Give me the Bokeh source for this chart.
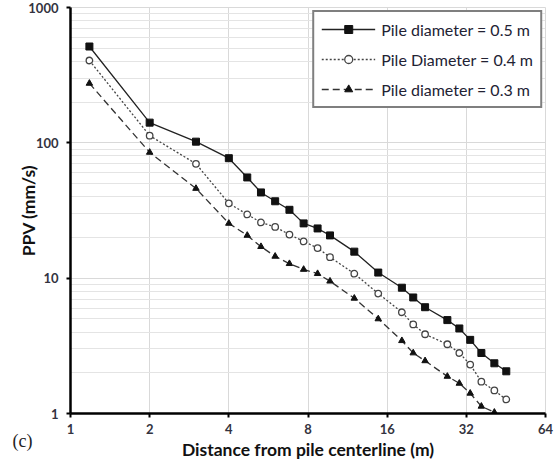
from bokeh.plotting import figure
from bokeh.models import FixedTicker, Legend, LegendItem, Title, Range1d
from bokeh.embed import file_html
from bokeh.resources import INLINE

# ---- data ----
distance = [1.18, 2.0, 3.0, 4.0, 4.7, 5.3, 6.0, 6.8, 7.7, 8.7, 9.7, 12.0,
            14.8, 18.2, 20.1, 22.3, 27.1, 30.1, 33.1, 36.5, 40.9, 45.4]
ppv_05 = [515, 141, 102, 77, 55.5, 43, 37, 32, 25.4, 23.3, 20.7, 15.7,
          11.0, 8.5, 7.2, 6.1, 4.9, 4.25, 3.5, 2.8, 2.35, 2.05]
ppv_04 = [406, 113, 70, 35.7, 29.6, 25.8, 23.9, 21.0, 18.7, 16.7, 14.3, 10.8,
          7.7, 5.6, 4.55, 3.85, 3.25, 2.8, 2.3, 1.72, 1.48, 1.27]
ppv_03 = [275, 85, 46, 25.4, 20.7, 17.1, 14.5, 12.8, 11.6, 10.8, 9.5, 7.1,
          5.0, 3.45, 2.8, 2.45, 1.88, 1.67, 1.41, 1.13, 1.02]
x_ticks = [1, 2, 4, 8, 16, 32, 64]
y_ticks = [1, 10, 100, 1000]
y_minor = [m * d for d in (1, 10, 100) for m in range(2, 10)]
labels = ["Pile diameter = 0.5 m", "Pile Diameter = 0.4 m", "Pile diameter = 0.3 m"]

FONT = "Lato"

p = figure(width=555, height=465, x_axis_type="log", y_axis_type="log",
           x_range=Range1d(1, 64), y_range=Range1d(1, 1000),
           output_backend="svg", toolbar_location=None,
           min_border_left=70, min_border_right=10, min_border_top=7,
           min_border_bottom=52)
p.background_fill_color = "white"
p.border_fill_color = "white"
p.outline_line_color = "#d9d9d9"
p.outline_line_width = 1

p.xaxis.ticker = FixedTicker(ticks=x_ticks)
p.yaxis.ticker = FixedTicker(ticks=y_ticks, minor_ticks=y_minor)
p.xaxis.major_label_overrides = {t: str(t) for t in x_ticks}
p.yaxis.major_label_overrides = {t: str(t) for t in y_ticks}

for ax in (p.xaxis[0], p.yaxis[0]):
    ax.axis_line_color = "black"
    ax.axis_line_width = 2.5
    ax.major_tick_line_color = "black"
    ax.major_tick_line_width = 2
    ax.major_tick_out = 4
    ax.major_tick_in = 0
    ax.minor_tick_line_color = None
    ax.major_label_text_font = FONT
    ax.major_label_text_font_style = "bold"
    ax.major_label_text_font_size = "13px"
    ax.major_label_text_color = "#333340"
    ax.axis_label_text_font = FONT
    ax.axis_label_text_font_style = "bold"
    ax.axis_label_text_font_size = "17.5px"
    ax.axis_label_text_color = "#111111"

p.xaxis.axis_label = "Distance from pile centerline (m)"
p.yaxis.axis_label = "PPV (mm/s)"
p.xaxis.major_label_standoff = 6
p.xaxis.axis_label_standoff = 2
p.yaxis.major_label_standoff = 8
p.yaxis.axis_label_standoff = -14

p.xgrid.grid_line_color = "#d9d9d9"
p.ygrid.grid_line_color = "#d9d9d9"
p.ygrid.minor_grid_line_color = "#e4e4e4"

# series
l1 = p.line(distance, ppv_05, line_color="#222222", line_width=1.3)
s1 = p.scatter(distance, ppv_05, marker="square", size=7,
               fill_color="#111111", line_color="#111111")
l2 = p.line(distance, ppv_04, line_color="#444444", line_width=1.3,
            line_dash="2 2")
s2 = p.scatter(distance, ppv_04, marker="circle", size=6.5,
               fill_color="white", line_color="#444444", line_width=1.3)
l3 = p.line(distance[:len(ppv_03)], ppv_03, line_color="#333333",
            line_width=1.3, line_dash="7 4")
s3 = p.scatter(distance[:len(ppv_03)], ppv_03, marker="triangle", size=6.5,
               fill_color="#111111", line_color="#111111")

legend = Legend(items=[LegendItem(label=labels[0], renderers=[l1, s1]),
                       LegendItem(label=labels[1], renderers=[l2, s2]),
                       LegendItem(label=labels[2], renderers=[l3, s3])],
                location="top_right")
legend.border_line_color = "black"
legend.border_line_width = 2.5
legend.background_fill_color = "white"
legend.background_fill_alpha = 1
legend.label_text_font = FONT
legend.label_text_font_size = "16px"
legend.label_text_color = "#222233"
legend.glyph_width = 54
legend.glyph_height = 20
legend.label_height = 20
legend.spacing = 10
legend.padding = 7
legend.margin = 3
legend.label_standoff = 6
p.add_layout(legend)

p.add_layout(Title(text="(c)", align="left", offset=-58, standoff=-64,
                   vertical_align="top",
                   text_font="Liberation Serif", text_font_size="18px",
                   text_font_style="normal", text_color="#222222"), "below")

open("out.html", "w").write(file_html(p, INLINE))
